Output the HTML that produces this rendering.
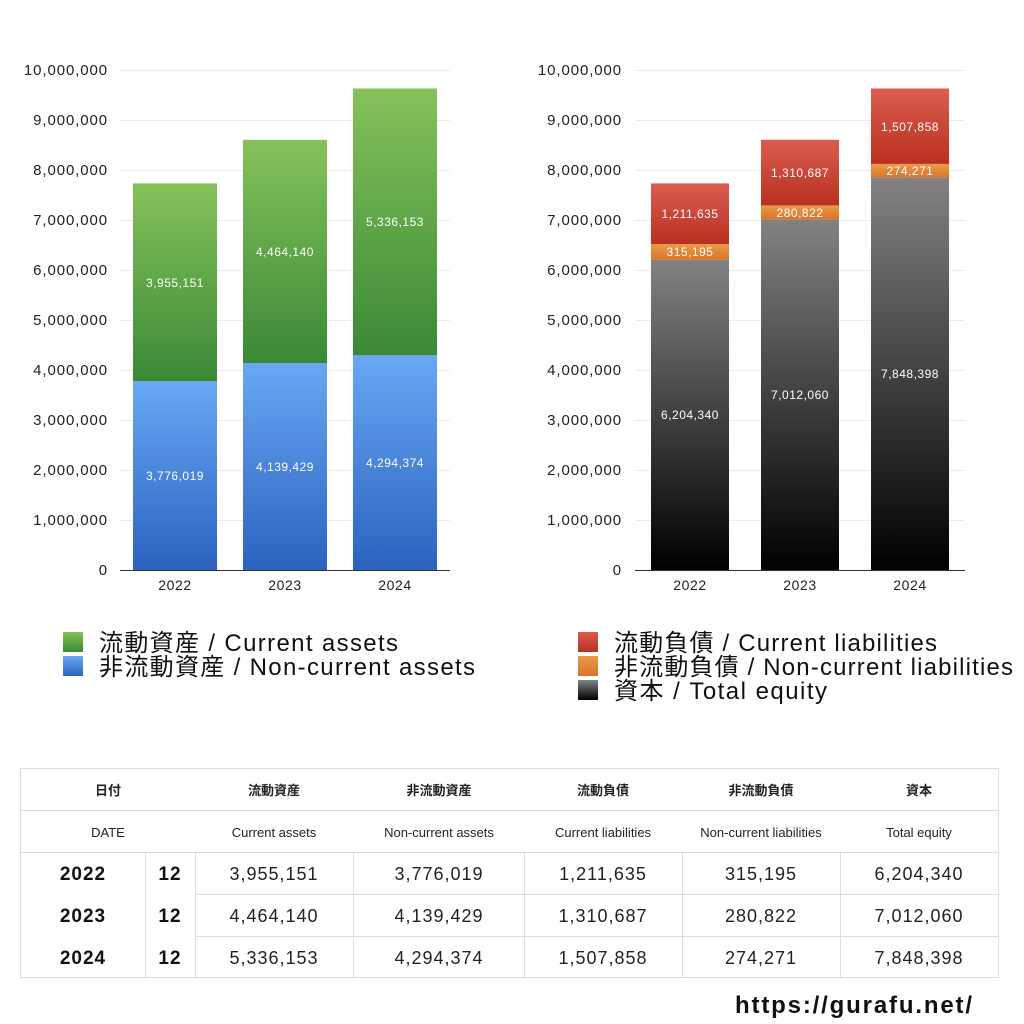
<!DOCTYPE html>
<html><head><meta charset="utf-8"><style>
body{margin:0;background:#fff;width:1024px;height:1024px;overflow:hidden}
svg{display:block}
text{font-family:"Liberation Sans","Noto Sans CJK JP",sans-serif}
</style></head><body>
<svg width="1024" height="1024" viewBox="0 0 1024 1024" xmlns="http://www.w3.org/2000/svg">
<defs>
<linearGradient id="g" x1="0" y1="0" x2="0" y2="1"><stop offset="0" stop-color="#86c25a"/><stop offset="1" stop-color="#3a8936"/></linearGradient>
<linearGradient id="b" x1="0" y1="0" x2="0" y2="1"><stop offset="0" stop-color="#68a8f4"/><stop offset="1" stop-color="#2b62bf"/></linearGradient>
<linearGradient id="r" x1="0" y1="0" x2="0" y2="1"><stop offset="0" stop-color="#dc5d50"/><stop offset="1" stop-color="#b83020"/></linearGradient>
<linearGradient id="o" x1="0" y1="0" x2="0" y2="1"><stop offset="0" stop-color="#eb9a48"/><stop offset="1" stop-color="#d9742a"/></linearGradient>
<linearGradient id="k" x1="0" y1="0" x2="0" y2="1"><stop offset="0" stop-color="#828282"/><stop offset="1" stop-color="#000"/></linearGradient>
</defs>
<g stroke="#ececec" stroke-width="1">
<line x1="120" x2="450" y1="70.5" y2="70.5"/><line x1="120" x2="450" y1="120.5" y2="120.5"/><line x1="120" x2="450" y1="170.5" y2="170.5"/><line x1="120" x2="450" y1="220.5" y2="220.5"/><line x1="120" x2="450" y1="270.5" y2="270.5"/><line x1="120" x2="450" y1="320.5" y2="320.5"/><line x1="120" x2="450" y1="370.5" y2="370.5"/><line x1="120" x2="450" y1="420.5" y2="420.5"/><line x1="120" x2="450" y1="470.5" y2="470.5"/><line x1="120" x2="450" y1="520.5" y2="520.5"/>
<line x1="635" x2="965" y1="70.5" y2="70.5"/><line x1="635" x2="965" y1="120.5" y2="120.5"/><line x1="635" x2="965" y1="170.5" y2="170.5"/><line x1="635" x2="965" y1="220.5" y2="220.5"/><line x1="635" x2="965" y1="270.5" y2="270.5"/><line x1="635" x2="965" y1="320.5" y2="320.5"/><line x1="635" x2="965" y1="370.5" y2="370.5"/><line x1="635" x2="965" y1="420.5" y2="420.5"/><line x1="635" x2="965" y1="470.5" y2="470.5"/><line x1="635" x2="965" y1="520.5" y2="520.5"/>
</g>
<g font-size="15" fill="#222" text-anchor="end" letter-spacing="0.9">
<text x="108" y="75">10,000,000</text><text x="108" y="125">9,000,000</text><text x="108" y="175">8,000,000</text><text x="108" y="225">7,000,000</text><text x="108" y="275">6,000,000</text><text x="108" y="325">5,000,000</text><text x="108" y="375">4,000,000</text><text x="108" y="425">3,000,000</text><text x="108" y="475">2,000,000</text><text x="108" y="525">1,000,000</text><text x="108" y="575">0</text>
<text x="622" y="75">10,000,000</text><text x="622" y="125">9,000,000</text><text x="622" y="175">8,000,000</text><text x="622" y="225">7,000,000</text><text x="622" y="275">6,000,000</text><text x="622" y="325">5,000,000</text><text x="622" y="375">4,000,000</text><text x="622" y="425">3,000,000</text><text x="622" y="475">2,000,000</text><text x="622" y="525">1,000,000</text><text x="622" y="575">0</text>
</g>
<rect x="133" y="381.2" width="84" height="188.8" fill="url(#b)"/><rect x="133" y="183.4" width="84" height="197.8" fill="url(#g)"/>
<rect x="243" y="363" width="84" height="207" fill="url(#b)"/><rect x="243" y="139.8" width="84" height="223.2" fill="url(#g)"/>
<rect x="353" y="355.3" width="84" height="214.7" fill="url(#b)"/><rect x="353" y="88.5" width="84" height="266.8" fill="url(#g)"/>
<rect x="651" y="259.8" width="78" height="310.2" fill="url(#k)"/><rect x="651" y="244" width="78" height="15.8" fill="url(#o)"/><rect x="651" y="183.4" width="78" height="60.6" fill="url(#r)"/>
<rect x="761" y="219.4" width="78" height="350.6" fill="url(#k)"/><rect x="761" y="205.4" width="78" height="14" fill="url(#o)"/><rect x="761" y="139.8" width="78" height="65.6" fill="url(#r)"/>
<rect x="871" y="177.6" width="78" height="392.4" fill="url(#k)"/><rect x="871" y="163.9" width="78" height="13.7" fill="url(#o)"/><rect x="871" y="88.5" width="78" height="75.4" fill="url(#r)"/>
<line x1="120" x2="450" y1="570.5" y2="570.5" stroke="#333"/>
<line x1="635" x2="965" y1="570.5" y2="570.5" stroke="#333"/>
<g font-size="12" fill="#fff" text-anchor="middle" letter-spacing="0.5">
<text x="175" y="480">3,776,019</text><text x="175" y="287">3,955,151</text>
<text x="285" y="471">4,139,429</text><text x="285" y="256">4,464,140</text>
<text x="395" y="467">4,294,374</text><text x="395" y="226">5,336,153</text>
<text x="690" y="419">6,204,340</text><text x="690" y="256">315,195</text><text x="690" y="218">1,211,635</text>
<text x="800" y="399">7,012,060</text><text x="800" y="217">280,822</text><text x="800" y="177">1,310,687</text>
<text x="910" y="378">7,848,398</text><text x="910" y="175">274,271</text><text x="910" y="131">1,507,858</text>
</g>
<g font-size="14" fill="#222" text-anchor="middle" letter-spacing="0.6">
<text x="175" y="590">2022</text><text x="285" y="590">2023</text><text x="395" y="590">2024</text>
<text x="690" y="590">2022</text><text x="800" y="590">2023</text><text x="910" y="590">2024</text>
</g>
<rect x="63" y="632" width="20" height="20" fill="url(#g)"/><rect x="63" y="656" width="20" height="20" fill="url(#b)"/>
<g font-size="24" fill="#111"><text x="99" y="651" textLength="299" lengthAdjust="spacing">流動資産 / Current assets</text><text x="99" y="675" textLength="376" lengthAdjust="spacing">非流動資産 / Non-current assets</text></g>
<rect x="578" y="632" width="20" height="20" fill="url(#r)"/><rect x="578" y="656" width="20" height="20" fill="url(#o)"/><rect x="578" y="680" width="20" height="20" fill="url(#k)"/>
<g font-size="24" fill="#111"><text x="614" y="651" textLength="323" lengthAdjust="spacing">流動負債 / Current liabilities</text><text x="614" y="675" textLength="399" lengthAdjust="spacing">非流動負債 / Non-current liabilities</text><text x="614" y="699" textLength="213" lengthAdjust="spacing">資本 / Total equity</text></g>
<g stroke="#ddd" stroke-width="1" fill="none">
<rect x="20.5" y="768.5" width="978" height="209"/>
<line x1="20" x2="999" y1="810.5" y2="810.5"/><line x1="20" x2="999" y1="852.5" y2="852.5"/>
<line x1="195" x2="999" y1="894.5" y2="894.5"/><line x1="195" x2="999" y1="936.5" y2="936.5"/>
<line x1="145.5" x2="145.5" y1="852" y2="978"/><line x1="195.5" x2="195.5" y1="852" y2="978"/>
<line x1="353.5" x2="353.5" y1="852" y2="978"/><line x1="524.5" x2="524.5" y1="852" y2="978"/>
<line x1="682.5" x2="682.5" y1="852" y2="978"/><line x1="840.5" x2="840.5" y1="852" y2="978"/>
</g>
<g font-size="13" font-weight="bold" fill="#222" text-anchor="middle">
<text x="108" y="795">日付</text><text x="274" y="795">流動資産</text><text x="439" y="795">非流動資産</text><text x="603" y="795">流動負債</text><text x="761" y="795">非流動負債</text><text x="919" y="795">資本</text>
</g>
<g font-size="13" fill="#222" text-anchor="middle">
<text x="108" y="837">DATE</text><text x="274" y="837">Current assets</text><text x="439" y="837">Non-current assets</text><text x="603" y="837">Current liabilities</text><text x="761" y="837">Non-current liabilities</text><text x="919" y="837">Total equity</text>
</g>
<g font-size="19" font-weight="bold" fill="#111" text-anchor="middle" letter-spacing="1">
<text x="83" y="880">2022</text><text x="170" y="880">12</text>
<text x="83" y="922">2023</text><text x="170" y="922">12</text>
<text x="83" y="964">2024</text><text x="170" y="964">12</text>
</g>
<g font-size="18" fill="#222" text-anchor="middle" letter-spacing="1">
<text x="274" y="880">3,955,151</text><text x="439" y="880">3,776,019</text><text x="603" y="880">1,211,635</text><text x="761" y="880">315,195</text><text x="919" y="880">6,204,340</text>
<text x="274" y="922">4,464,140</text><text x="439" y="922">4,139,429</text><text x="603" y="922">1,310,687</text><text x="761" y="922">280,822</text><text x="919" y="922">7,012,060</text>
<text x="274" y="964">5,336,153</text><text x="439" y="964">4,294,374</text><text x="603" y="964">1,507,858</text><text x="761" y="964">274,271</text><text x="919" y="964">7,848,398</text>
</g>
<text x="735" y="1013" font-size="24" font-weight="bold" fill="#111" textLength="237" lengthAdjust="spacing">https://gurafu.net/</text>
</svg>
</body></html>
